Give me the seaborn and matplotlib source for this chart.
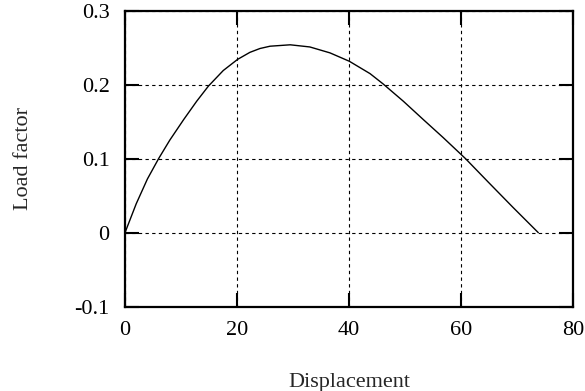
import matplotlib
matplotlib.use("Agg")
import matplotlib.pyplot as plt
import seaborn as sns
import pandas as pd

# Load-displacement path
displacement = [0.0, 2.0, 4.0, 6.0, 8.0, 10.5, 12.8, 14.9, 17.55, 20.1,
                22.3, 24.1, 25.9, 29.5, 33.0, 36.6, 40.05, 43.75, 46.1, 49.7,
                53.3, 56.8, 60.8, 64.9, 69.3, 73.8]
load_factor = [0.0, 0.039, 0.0725, 0.100, 0.125, 0.153, 0.1775, 0.198, 0.219, 0.234,
               0.2435, 0.2487, 0.2518, 0.2537, 0.2508, 0.2428, 0.2315, 0.2148, 0.2008, 0.1775,
               0.1525, 0.1285, 0.100, 0.068, 0.034, 0.0]

x_ticks = [0, 20, 40, 60, 80]
y_ticks = [-0.1, 0, 0.1, 0.2, 0.3]
y_tick_labels = ["-0.1", "0", "0.1", "0.2", "0.3"]

df = pd.DataFrame({"Displacement": displacement, "Load factor": load_factor})

sns.set_theme(style="ticks")
plt.rcParams["font.family"] = ["Liberation Serif", "DejaVu Serif"]

fig = plt.figure(figsize=(5.85, 3.91), dpi=100)
ax = fig.add_axes([0.2137, 0.2156, 0.7658, 0.7575])

sns.lineplot(data=df, x="Displacement", y="Load factor", ax=ax,
             color="black", linewidth=1.0, sort=False, estimator=None)

ax.set_xlim(0, 80)
ax.set_ylim(-0.1, 0.3)
ax.set_xticks(x_ticks)
ax.set_xticklabels([str(t) for t in x_ticks])
ax.set_yticks(y_ticks)
ax.set_yticklabels(y_tick_labels)

ax.grid(True, color="black", linestyle=(0, (3, 3)), linewidth=0.8)
ax.set_axisbelow(True)

for s in ax.spines.values():
    s.set_visible(True)
    s.set_linewidth(1.6)
    s.set_color("black")

ax.tick_params(axis="both", which="major", direction="in", length=10, width=1.5,
               top=True, right=True, labelsize=16, colors="black")
ax.tick_params(axis="x", pad=10)
ax.tick_params(axis="y", pad=11)

ax.set_xlabel("Displacement", fontsize=16, labelpad=24)
ax.set_ylabel("Load factor", fontsize=16, labelpad=30)

fig.savefig("out.png", dpi=100)
